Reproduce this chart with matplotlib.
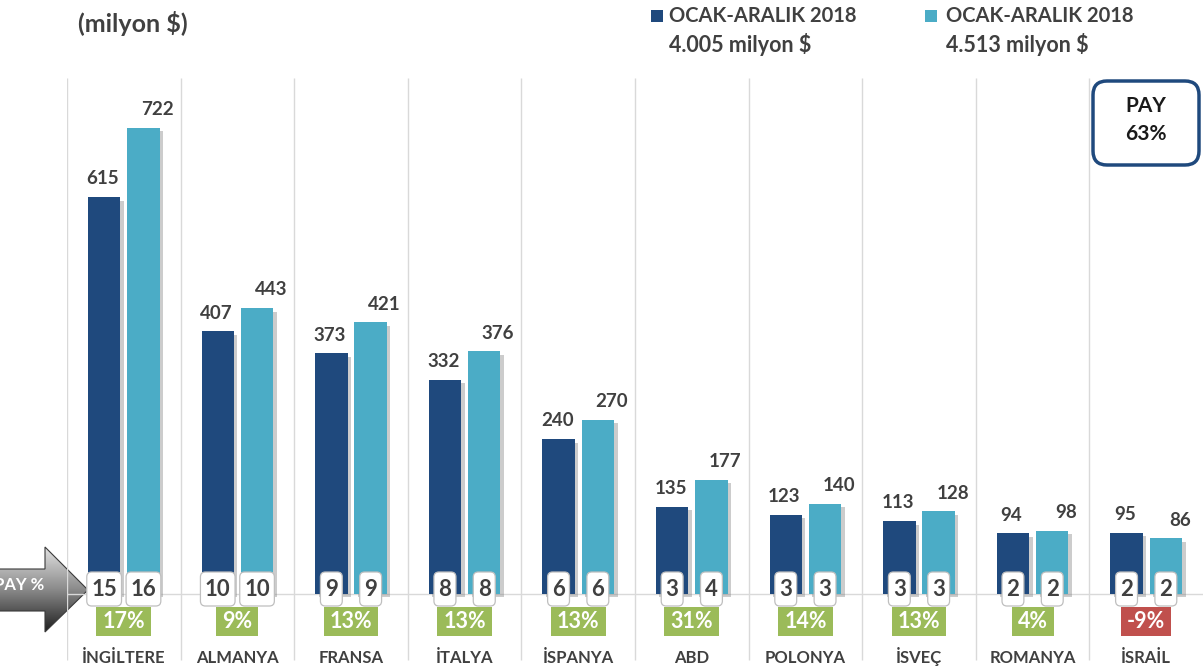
import matplotlib
matplotlib.use('Agg')
import matplotlib.pyplot as plt
import numpy as np
from matplotlib.patches import Polygon, FancyBboxPatch, Rectangle
from matplotlib.colors import LinearSegmentedColormap
from matplotlib.transforms import IdentityTransform
import matplotlib.patheffects as pe

plt.rcParams['font.family'] = ['Lato', 'DejaVu Sans']

# ---------------- data ----------------
categories = ['İNGİLTERE', 'ALMANYA', 'FRANSA', 'İTALYA', 'İSPANYA',
              'ABD', 'POLONYA', 'İSVEÇ', 'ROMANYA', 'İSRAİL']
values_a = [615, 407, 373, 332, 240, 135, 123, 113, 94, 95]
values_b = [722, 443, 421, 376, 270, 177, 140, 128, 98, 86]
share_a = [15, 10, 9, 8, 6, 3, 3, 3, 2, 2]
share_b = [16, 10, 9, 8, 6, 4, 3, 3, 2, 2]
change_pct = [17, 9, 13, 13, 13, 31, 14, 13, 4, -9]
legend_labels = ['OCAK-ARALIK 2018', 'OCAK-ARALIK 2018']
legend_totals = ['4.005 milyon $', '4.513 milyon $']
title_text = '(milyon $)'
pay_label = 'PAY'
pay_value = '63%'

DARK = '#1F497D'
LIGHT = '#4BACC6'
GREEN = '#9BBB59'
RED = '#C0504D'
TXT = '#404040'
GRID = '#D9D9D9'

W, H = 1203, 672
PXU = 0.6454  # pixels per value unit

fig = plt.figure(figsize=(W / 100, H / 100), dpi=100)

# overlay axes in pixel coordinates for decorations
ov = fig.add_axes([0, 0, 1, 1])
ov.patch.set_visible(False)
ov.axis('off')

# main data axes
ax = fig.add_axes([67 / W, 0, 1136 / W, 1])
ax.patch.set_visible(False)
ax.set_xlim(-0.5, 9.5)
ymin, ymax = -78 / PXU, 594 / PXU
ax.set_ylim(ymin, ymax)
ax.axis('off')

x = np.arange(len(categories))
off = 0.173
bw = 0.285

# grid lines
ax.vlines(np.arange(-0.5, 9.0, 1.0), (594 - 660) / PXU, (594 - 78) / PXU,
          color=GRID, lw=1, zorder=1)
ax.axhline(0, color=GRID, lw=1, zorder=1)

bars_a = ax.bar(x - off, values_a, bw, color=DARK, zorder=3)
bars_b = ax.bar(x + off, values_b, bw, color=LIGHT, zorder=3)
for b in list(bars_a) + list(bars_b):
    b.set_path_effects([pe.SimplePatchShadow(offset=(2.5, -2.5), shadow_rgbFace='#808080', alpha=0.4),
                        pe.Normal()])

for xi, va, vb in zip(x, values_a, values_b):
    ax.annotate(str(va), (xi - off, va), xytext=(-1, 7), textcoords='offset points',
                ha='center', va='bottom', fontsize=13.5, fontweight='bold', color=TXT, zorder=6)
    ax.annotate(str(vb), (xi + off, vb), xytext=(10, 7), textcoords='offset points',
                ha='center', va='bottom', fontsize=13.5, fontweight='bold', color=TXT, zorder=6)

count_texts = []
for xi, sa, sb in zip(x, share_a, share_b):
    for xx, s in ((xi - off, sa), (xi + off, sb)):
        t = ax.text(xx, 5 / PXU, str(s), ha='center', va='center', fontsize=16,
                    fontweight='bold', color=TXT, zorder=7)
        count_texts.append(t)

change_texts = []
for xi, c in zip(x, change_pct):
    t = ax.text(xi, -27 / PXU, f'{c}%', ha='center', va='center', fontsize=15.5,
                fontweight='bold', color='white', zorder=7)
    change_texts.append((t, c))

for xi, cat in zip(x, categories):
    ax.text(xi, -69 / PXU, cat, ha='center', va='baseline', fontsize=12, fontweight='bold', color=TXT)

# ---------------- decorations (pixel coords) ----------------
verts = [(-5, 569), (45, 569), (45, 547), (88, 590), (45, 632), (45, 611), (-5, 611)]
poly = Polygon(verts, closed=True, fc='none', ec='#3a3a3a', lw=0.8, zorder=3)
ov.add_patch(poly)
cmap = LinearSegmentedColormap.from_list('g', ['#e2e2e2', '#8a8a8a', '#1e1e1e'])
grad = np.linspace(0, 1, 256).reshape(-1, 1)
im = ov.imshow(grad, extent=(-5, 88, 632, 547), cmap=cmap, aspect='auto', zorder=2)
im.set_clip_path(poly)
ov.text(44, 585, 'PAY %', ha='right', va='center', fontsize=12, fontweight='bold',
        color='white', zorder=4)

ov.text(78, 23, title_text, ha='left', va='center', fontsize=18, fontweight='bold', color=TXT)

for (sx, tx), col, lab, tot in zip([(651, 669), (925, 946)], [DARK, LIGHT], legend_labels, legend_totals):
    ov.add_patch(Rectangle((sx, 10), 12, 12, fc=col, ec='none'))
    ov.text(tx, 16, lab, ha='left', va='center', fontsize=14.5, fontweight='bold', color=TXT)
    ov.text(tx, 45, tot, ha='left', va='center', fontsize=15.5, fontweight='bold', color=TXT)

ov.add_patch(FancyBboxPatch((1093, 81), 106, 84, boxstyle='round,pad=0,rounding_size=14',
                            fc='white', ec=DARK, lw=2.5, zorder=3))
ov.text(1146, 106, pay_label, ha='center', va='center', fontsize=15, fontweight='bold',
        color='#1a1a1a', zorder=4)
ov.text(1146, 134, pay_value, ha='center', va='center', fontsize=15, fontweight='bold',
        color='#1a1a1a', zorder=4)

ov.set_xlim(0, W)
ov.set_ylim(H, 0)

# boxes sized around the label texts (display pixels)
fig.canvas.draw()
for t in count_texts:
    bb = t.get_window_extent()
    cx, cy = (bb.x0 + bb.x1) / 2, (bb.y0 + bb.y1) / 2
    w = bb.width + 9
    h = 34
    ax.add_patch(FancyBboxPatch((cx - w / 2, cy - h / 2), w, h,
                                boxstyle='round,pad=0,rounding_size=5',
                                fc='white', ec='#BFBFBF', lw=0.9, zorder=6,
                                transform=IdentityTransform(), clip_on=False))
for t, c in change_texts:
    bb = t.get_window_extent()
    cx, cy = (bb.x0 + bb.x1) / 2, (bb.y0 + bb.y1) / 2
    w = bb.width + 12
    h = 29
    ax.add_patch(Rectangle((cx - w / 2, cy - h / 2), w, h, fc=GREEN if c >= 0 else RED,
                           ec='none', zorder=6, transform=IdentityTransform(), clip_on=False))

fig.savefig('out.png', dpi=100)
